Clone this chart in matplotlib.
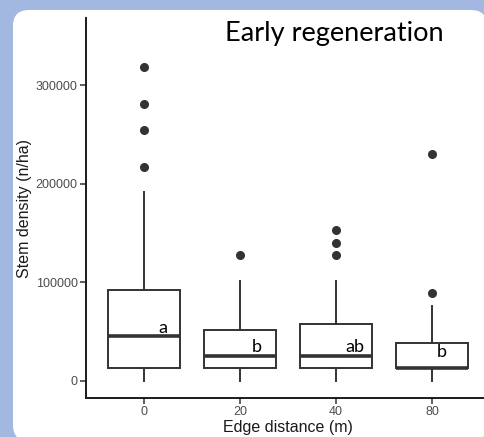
import numpy as np
import matplotlib
matplotlib.use("Agg")
import matplotlib.pyplot as plt
from matplotlib.patches import FancyBboxPatch

# edge distance groups and box statistics (stems per ha)
labels = ["0", "20", "40", "80"]
q1 = [12900, 12900, 12900, 12900]
med = [44900, 25100, 25100, 12900]
q3 = [92500, 51200, 57300, 38000]
whislo = [0, 0, 0, 0]
whishi = [191000, 101600, 101600, 76200]
fliers = [[216800, 254600, 280400, 318600],
          [127700],
          [127400, 140200, 153100],
          [89100, 229700]]
letters = ["a", "b", "ab", "b"]
letter_x = [1.2, 2.17, 3.2, 4.1]
letter_y = [53800, 34500, 34500, 28800]

stats = []
for i in range(len(labels)):
    stats.append(dict(q1=q1[i], med=med[i], q3=q3[i], whislo=whislo[i],
                      whishi=whishi[i], fliers=fliers[i], label=labels[i]))

fig = plt.figure(figsize=(4.85, 4.37), dpi=100)
fig.patch.set_facecolor("#a3b8e0")
panel = FancyBboxPatch((0.13, -0.04), 4.74, 4.31,
                       boxstyle="round,pad=0,rounding_size=0.16",
                       transform=fig.dpi_scale_trans, facecolor="white",
                       edgecolor="none", zorder=-10)
fig.patches.append(panel)

ax = fig.add_axes([86/485, 39/437, 404/485, 380/437])
ax.set_facecolor("none")
dark = "#333333"
ax.bxp(stats, positions=[1, 2, 3, 4], widths=0.75, patch_artist=True,
       showcaps=False,
       boxprops=dict(facecolor="white", edgecolor=dark, linewidth=1.4),
       whiskerprops=dict(color=dark, linewidth=1.4),
       medianprops=dict(color=dark, linewidth=2.6, solid_capstyle="butt"),
       flierprops=dict(marker="o", markerfacecolor=dark, markeredgecolor=dark,
                       markersize=5.5))

for x, y, t in zip(letter_x, letter_y, letters):
    ax.text(x, y, t, ha="center", va="center", fontsize=13, family="Lato")

ax.set_xlim(0.4, 4.6)
ax.set_ylim(-17500, 368000)
ax.set_yticks([0, 100000, 200000, 300000])
ax.set_yticklabels(["0", "100000", "200000", "300000"])
ax.set_xticks([1, 2, 3, 4])
ax.set_xticklabels(labels)
for s in ["top", "right"]:
    ax.spines[s].set_visible(False)
for s in ["left", "bottom"]:
    ax.spines[s].set_linewidth(1.4)
    ax.spines[s].set_color("#1a1a1a")
ax.tick_params(length=4, width=1.1, color=dark, labelcolor="#4d4d4d",
               labelsize=9, pad=2)
for lab in ax.get_xticklabels() + ax.get_yticklabels():
    lab.set_family("Liberation Sans")
ax.set_xlabel("Edge distance (m)", fontsize=11.5, family="Liberation Sans",
              color="#1a1a1a", labelpad=1)
ax.set_ylabel("Stem density (n/ha)", fontsize=11.5, family="Liberation Sans",
              color="#1a1a1a", labelpad=3)

fig.text(334/485, 1 - 41/437, "Early regeneration", ha="center",
         va="baseline", fontsize=19.5, family="Lato")

fig.savefig("out.png", dpi=100, facecolor=fig.get_facecolor())
